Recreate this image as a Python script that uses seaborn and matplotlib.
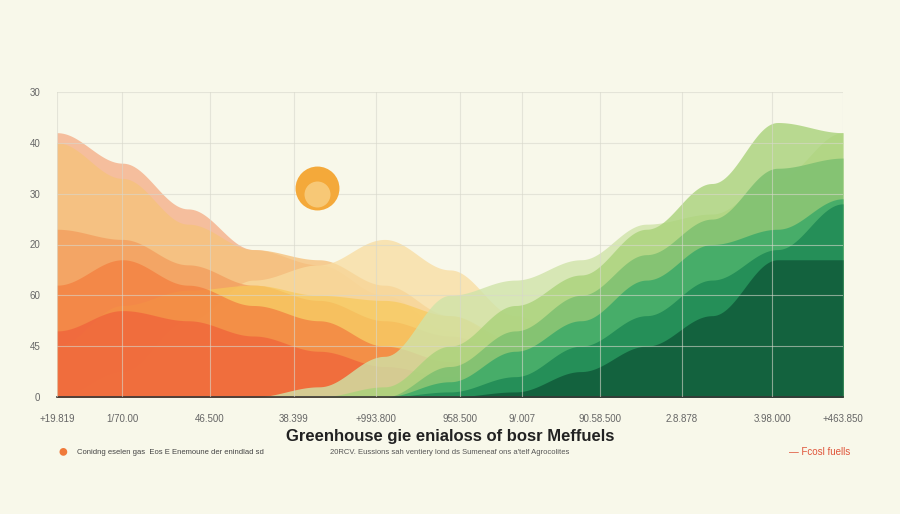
import numpy as np
import matplotlib
matplotlib.use("Agg")
import matplotlib.pyplot as plt
import seaborn as sns

sns.set_theme(style="white")
plt.rcParams['font.family'] = ['Liberation Sans', 'DejaVu Sans']

x = np.arange(13)
ytick_labels = ["0", "45", "60", "20", "30", "40", "30"]
xtick_labels = ["+19.819", "1/70.00", "46.500", "38.399", "+993.800", "958.500",
                "9/.007", "90.58.500", "2.8.878", "3.98.000", "+463.850"]
xtick_px = [57, 122, 210, 294, 376, 460, 522, 600, 682, 772, 843]

peach  = [5.2, 4.6, 3.7, 2.9, 2.6, 2.0, 1.3, 0.8, 0.5, 0.3, 0.2, 0.1, 0.1]
orng_l = [5.0, 4.3, 3.4, 2.9, 2.7, 2.2, 1.6, 1.0, 0.6, 0.3, 0.2, 0.1, 0.1]
orng_m = [3.3, 3.1, 2.6, 2.2, 1.9, 1.5, 1.2, 0.8, 0.5, 0.3, 0.2, 0.1, 0.1]
orng_d = [2.2, 2.7, 2.2, 1.8, 1.5, 1.0, 0.7, 0.5, 0.3, 0.2, 0.1, 0.1, 0.1]
red_o  = [1.3, 1.7, 1.5, 1.2, 0.9, 0.6, 0.4, 0.2, 0.1, 0.1, 0.0, 0.0, 0.0]
yel_l  = [0.0, 0.5, 1.5, 2.3, 2.6, 3.1, 2.5, 1.6, 0.9, 0.5, 0.3, 0.1, 0.0]
yel_m  = [1.0, 1.8, 2.1, 2.2, 2.0, 1.9, 1.6, 1.1, 0.6, 0.3, 0.1, 0.0, 0.0]
grn_1  = [0.0, 0.0, 0.0, 0.0, 0.2, 0.8, 2.0, 2.3, 2.7, 3.4, 3.6, 4.3, 5.2]
grn_2  = [0.0, 0.0, 0.0, 0.0, 0.0, 0.2, 1.0, 1.8, 2.4, 3.3, 4.2, 5.4, 5.2]
grn_3  = [0.0, 0.0, 0.0, 0.0, 0.0, 0.0, 0.6, 1.3, 2.0, 2.8, 3.5, 4.5, 4.7]
grn_4  = [0.0, 0.0, 0.0, 0.0, 0.0, 0.0, 0.3, 0.9, 1.5, 2.3, 3.0, 3.3, 3.9]
grn_5  = [0.0, 0.0, 0.0, 0.0, 0.0, 0.0, 0.1, 0.4, 1.0, 1.6, 2.3, 2.9, 3.8]
grn_6  = [0.0, 0.0, 0.0, 0.0, 0.0, 0.0, 0.0, 0.1, 0.5, 1.0, 1.6, 2.7, 2.7]

layers = [
    (peach, "#f5b08a", 0.8), (orng_l, "#f6c27c", 0.8), (yel_l, "#f8dca0", 0.75),
    (orng_m, "#f39a5a", 0.7), (yel_m, "#f7c95a", 0.7), (orng_d, "#f37f3f", 0.75),
    (red_o, "#f0603a", 0.7),
    (grn_1, "#cfe3a8", 0.8), (grn_2, "#a9d27a", 0.8), (grn_3, "#7dc070", 0.85),
    (grn_4, "#3daa68", 0.85), (grn_5, "#1f8a55", 0.85), (grn_6, "#115e3c", 0.9),
]

def smooth(xs, ys, n=400):
    xs = np.asarray(xs, float); ys = np.asarray(ys, float)
    xf = np.linspace(xs[0], xs[-1], n)
    idx = np.clip(np.searchsorted(xs, xf) - 1, 0, len(xs) - 2)
    t = (xf - xs[idx]) / (xs[idx + 1] - xs[idx])
    t = (1 - np.cos(np.pi * t)) / 2
    return xf, ys[idx] * (1 - t) + ys[idx + 1] * t

fig = plt.figure(figsize=(9, 5.14), dpi=100)
fig.patch.set_facecolor("#f8f8ea")
ax = fig.add_axes([57/900, 1 - 397/514, (843 - 57)/900, (397 - 92)/514])
ax.set_facecolor("#f8f8ea")

for ys, c, a in layers:
    xf, yf = smooth(x, ys)
    ax.fill_between(xf, 0, yf, color=c, alpha=a, lw=0)

xt = [(p - 57) / 65.5 for p in xtick_px]
ax.set_xticks(xt)
ax.set_xticklabels(xtick_labels, fontsize=7, color="#666")
ax.set_xlim(0, 12)
ax.set_ylim(0, 6)
ax.set_yticks(range(7))
ax.set_yticklabels(ytick_labels, fontsize=7, color="#666")
ax.tick_params(length=0, pad=12)
ax.grid(True, color="#d8d8cc", lw=0.8, alpha=0.6)
ax.set_axisbelow(False)
for s in ["top", "right", "left"]:
    ax.spines[s].set_visible(False)
ax.spines["bottom"].set_color("#333")
ax.spines["bottom"].set_linewidth(1.2)

# sun
cx, cy = (317 - 57) / 65.5, (397 - 188) / 305 * 6
ax.scatter([cx], [cy], s=1000, color="#f4a93a", zorder=5, lw=0)
ax.scatter([cx], [cy - 0.12], s=350, color="#f9d690", zorder=6, lw=0, marker="o", alpha=0.7)

fig.text(0.5, 1 - 437/514, "Greenhouse gie enialoss of bosr Meffuels", ha="center", va="center",
         fontsize=12, fontweight="bold", color="#222")
fig.text(0.5, 1 - 452/514, "20RCV. Eussions sah ventiery lond ds Sumeneaf ons a'telf Agrocolites",
         ha="center", va="center", fontsize=5.5, color="#555")
fig.text(63/900, 1 - 452/514, "●", ha="center", va="center", fontsize=13, color="#f07a3a")
fig.text(77/900, 1 - 452/514, "Conidng eselen gas  Eos E Enemoune der enindlad sd",
         va="center", fontsize=5.5, color="#444")
fig.text(850/900, 1 - 452/514, "— Fcosl fuells", ha="right", va="center", fontsize=7, color="#e0553a")

fig.savefig("out.png", dpi=100, facecolor=fig.get_facecolor())
